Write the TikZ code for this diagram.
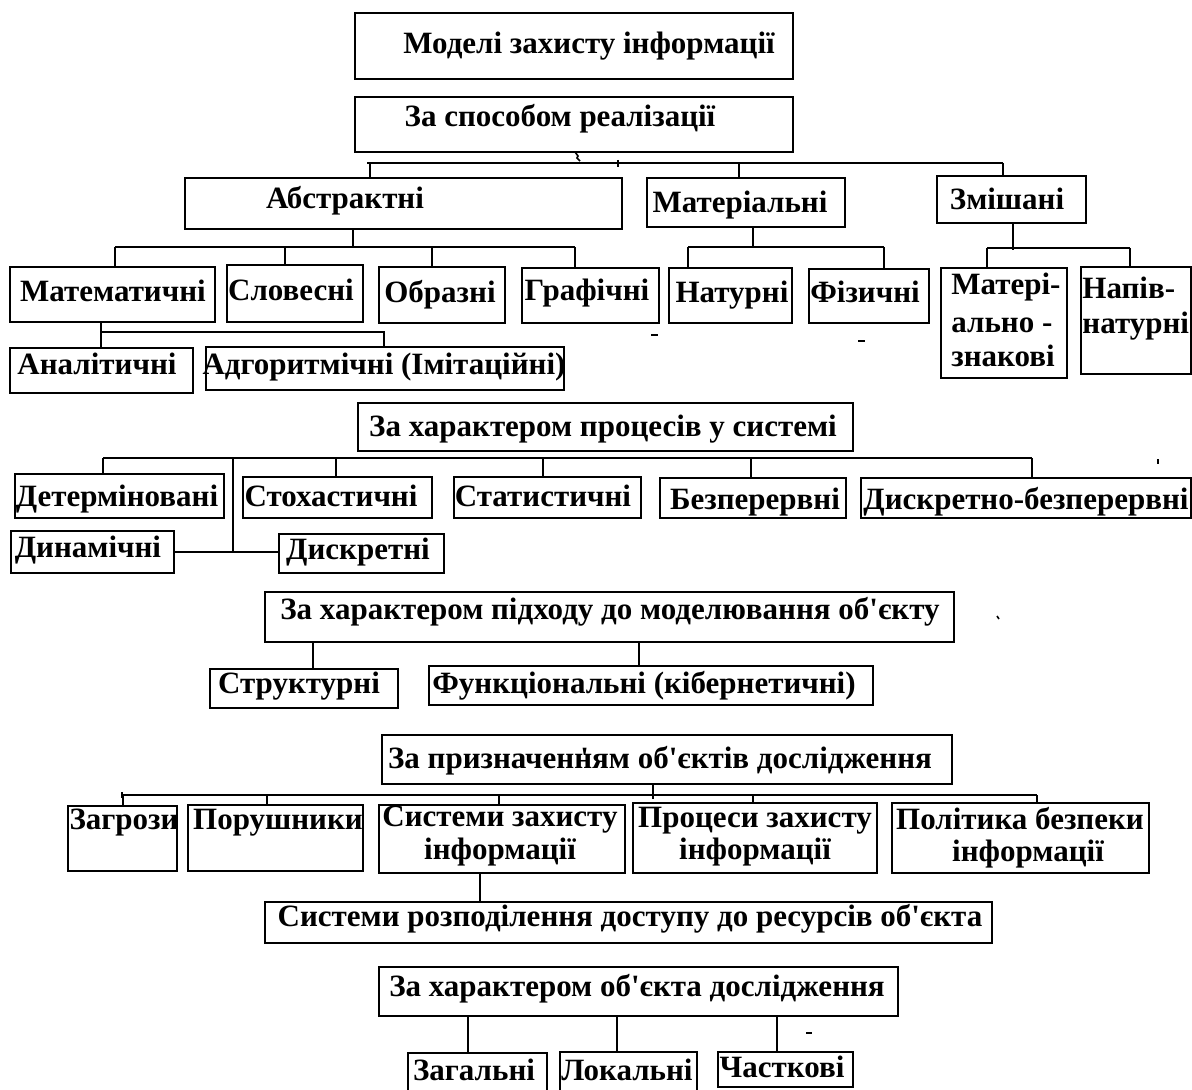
\documentclass[tikz,border=0pt]{standalone}
\usepackage{fontspec}
\setmainfont{Liberation Serif}[Ligatures=TeXOff]
\usetikzlibrary{fit}
% connector helpers: a vertical drop from a bus point down to a node's top,
% and a stem from a node's bottom down to a bus point
\newcommand\dropto[3]{\draw[wire] (#1,#2) coordinate (jn) -- (jn |- #3.north);}
\newcommand\stemfrom[3]{\path (#1,#2) coordinate (jn); \draw[wire] (jn |- #3.south) -- (jn);}
\begin{document}
\begin{tikzpicture}[x=0.5pt,y=-0.5pt,
  frame/.style={draw, line width=1pt, inner sep=0pt, fit={#1}},
  lbl/.style={font=\bfseries\fontsize{15.5}{17}\selectfont, inner sep=0pt,
    text height=0.92em, text depth=0pt},
  wire/.style={line width=1pt},
  speck/.style={line width=0.8pt}]
\useasboundingbox[fill=white] (0,0) rectangle (1192,1090);

% ---------- boxes ----------
\node[frame={(355,13) (793,79)}] (root) {};
\node[frame={(355,97) (793,152)}] (spos) {};
\node[frame={(185,178) (622,229)}] (abstr) {};
\node[frame={(647,178) (845,227)}] (mater) {};
\node[frame={(937,176) (1086,223)}] (zmish) {};
\node[frame={(10,267) (215,322)}] (matem) {};
\node[frame={(227,265) (363,322)}] (slov) {};
\node[frame={(379,267) (505,323)}] (obraz) {};
\node[frame={(522,268) (659,323)}] (graf) {};
\node[frame={(669,268) (792,323)}] (natur) {};
\node[frame={(809,269) (929,323)}] (fiz) {};
\node[frame={(941,268) (1067,378)}] (mzn) {};
\node[frame={(1081,267) (1190.5,374)}] (napiv) {};
\node[frame={(10,348) (193,393)}] (anal) {};
\node[frame={(206,347) (564,390)}] (algo) {};
\node[frame={(358,403) (853,451)}] (proc) {};
\node[frame={(15,474) (224,518)}] (determ) {};
\node[frame={(243,477) (432,518)}] (stoh) {};
\node[frame={(454,477) (641,518)}] (stat) {};
\node[frame={(660,478) (846,518)}] (bezp) {};
\node[frame={(861,478) (1190.5,518)}] (dbez) {};
\node[frame={(11,531) (174,573)}] (dyn) {};
\node[frame={(279,534) (444,573)}] (dysk) {};
\node[frame={(265,592) (954,642)}] (pidh) {};
\node[frame={(210,669) (398,708)}] (strukt) {};
\node[frame={(429,666) (873,705)}] (funk) {};
\node[frame={(382,735) (952,784)}] (pryzn) {};
\node[frame={(68,806) (177,871)}] (zagr) {};
\node[frame={(188,805) (363,871)}] (porush) {};
\node[frame={(379,805) (625,873)}] (szi) {};
\node[frame={(633,803) (877,873)}] (pzi) {};
\node[frame={(892,803) (1149,873)}] (polit) {};
\node[frame={(265,902) (992,943)}] (srd) {};
\node[frame={(379,967) (898,1016)}] (objd) {};
\node[frame={(408,1053) (547,1100)}] (zag) {};
\node[frame={(560,1052) (697,1100)}] (lok) {};
\node[frame={(718,1052) (853,1087)}] (chast) {};

% ---------- texts ----------
\node[lbl] (t-root) at (589,44) {Моделі захисту інформації};
\node[lbl] (t-spos) at (560,117) {За способом реалізації};
\node[lbl] (t-abstr) at (345,199) {Абстрактні};
\node[lbl] (t-mater) at (740,203) {Матеріальні};
\node[lbl] (t-zmish) at (1007,200) {Змішані};
\node[lbl] (t-matem) at (113,292) {Математичні};
\node[lbl] (t-slov) at (291,291) {Словесні};
\node[lbl] (t-obraz) at (440,293) {Образні};
\node[lbl] (t-graf) at (587,291) {Графічні};
\node[lbl] (t-natur) at (732,293) {Натурні};
\node[lbl] (t-fiz) at (865,293) {Фізичні};
\node[lbl, anchor=west] (t-mzn1) at (951,285) {Матері-};
\node[lbl, anchor=west] (t-mzn2) at (951,323) {ально -};
\node[lbl, anchor=west] (t-mzn3) at (951,357) {знакові};
\node[lbl, anchor=west] (t-napiv1) at (1082,289) {Напів-};
\node[lbl, anchor=west] (t-napiv2) at (1082,324) {натурні};
\node[lbl] (t-anal) at (97,365) {Аналітичні};
\node[lbl] (t-algo) at (384,365) {Адгоритмічні (Імітаційні)};
\node[lbl] (t-proc) at (603,427) {За характером процесів у системі};
\node[lbl] (t-determ) at (117,497) {Детерміновані};
\node[lbl] (t-stoh) at (331,497) {Стохастичні};
\node[lbl] (t-stat) at (543,497) {Статистичні};
\node[lbl] (t-bezp) at (755,500) {Безперервні};
\node[lbl] (t-dbez) at (1026,500) {Дискретно-безперервні};
\node[lbl] (t-dyn) at (88,548) {Динамічні};
\node[lbl] (t-dysk) at (358,550) {Дискретні};
\node[lbl] (t-pidh) at (610,610) {За характером підходу до моделювання об'єкту};
\node[lbl] (t-strukt) at (299,684) {Структурні};
\node[lbl] (t-funk) at (644,684) {Функціональні (кібернетичні)};
\node[lbl] (t-pryzn) at (660,759) {За призначенн\llap{'\hspace{0.1em}}ям об'єктів дослідження};
\node[lbl] (t-zagr) at (124,820) {Загрози};
\node[lbl] (t-porush) at (278,820) {Порушники};
\node[lbl] (t-szi1) at (500,817) {Системи захисту};
\node[lbl] (t-szi2) at (500,850) {інформації};
\node[lbl] (t-pzi1) at (755,818) {Процеси захисту};
\node[lbl] (t-pzi2) at (755,850) {інформації};
\node[lbl] (t-polit1) at (1020,820) {Політика безпеки};
\node[lbl] (t-polit2) at (1028,852) {інформації};
\node[lbl] (t-srd) at (630,917) {Системи розподілення доступу до ресурсів об'єкта};
\node[lbl] (t-objd) at (637,987) {За характером об'єкта дослідження};
\node[lbl] (t-zag) at (474,1071) {Загальні};
\node[lbl] (t-lok) at (627,1071) {Локальні};
\node[lbl] (t-chast) at (782,1068) {Часткові};

% ---------- connectors ----------
% by way of realisation
\draw[wire] (367,163) -- (1003,163);
\draw[speck] (575,152) -- (578,156) -- (577,158) -- (580,161);
\draw[wire] (618,160) -- (618,167);
\dropto{370}{163}{abstr}
\dropto{739}{163}{mater}
\dropto{1003}{163}{zmish}
% abstract
\stemfrom{353}{247}{abstr}
\draw[wire] (115,247) -- (575,247);
\dropto{115}{247}{matem}
\dropto{285}{247}{slov}
\dropto{432}{247}{obraz}
\dropto{575}{247}{graf}
% material
\stemfrom{753}{247}{mater}
\draw[wire] (688,247) -- (884,247);
\dropto{688}{247}{natur}
\dropto{884}{247}{fiz}
% mixed
\stemfrom{1013}{250}{zmish}
\draw[wire] (987,248) -- (1130,248);
\dropto{987}{248}{mzn}
\dropto{1130}{248}{napiv}
% mathematical
\stemfrom{101}{348}{matem}
\draw[wire] (101,348) -- (101,348 |- anal.north);
\draw[wire] (101,332) -- (385,332);
\dropto{384}{332}{algo}
% processes in the system
\draw[wire] (103,458) -- (1032,458);
\dropto{103}{458}{determ}
\dropto{336}{458}{stoh}
\dropto{543}{458}{stat}
\dropto{751}{458}{bezp}
\dropto{1032}{458}{dbez}
\draw[wire] (233,458) coordinate (jn) -- (jn |- dyn.east);
\draw[wire] (dyn.east) -- (dyn.east -| dysk.west);
% approach to modelling
\stemfrom{313}{669}{pidh}
\stemfrom{639}{666}{pidh}
% purpose of the objects
\draw[wire] (653,784) -- (653,799);
\draw[wire] (122,795) -- (1037,795);
\draw[wire] (122,792) -- (122,798);
\dropto{123}{795}{zagr}
\dropto{267}{795}{porush}
\dropto{499}{795}{szi}
\dropto{753}{795}{pzi}
\dropto{1037}{795}{polit}
\draw[wire] (480,873) coordinate (jn) -- (jn |- srd.north);
% nature of the object
\draw[wire] (468,1016) coordinate (jn) -- (jn |- zag.north);
\draw[wire] (617,1016) coordinate (jn) -- (jn |- lok.north);
\draw[wire] (777,1016) coordinate (jn) -- (jn |- chast.north);

% small stray marks
\draw[speck] (651,335) -- (658,335);
\draw[speck] (858,341) -- (865,341);
\draw[speck] (806,1033) -- (812,1033);
\draw[speck] (1158,459) -- (1158,464);
\draw[speck] (997,616) -- (999,619);
\end{tikzpicture}
\end{document}
